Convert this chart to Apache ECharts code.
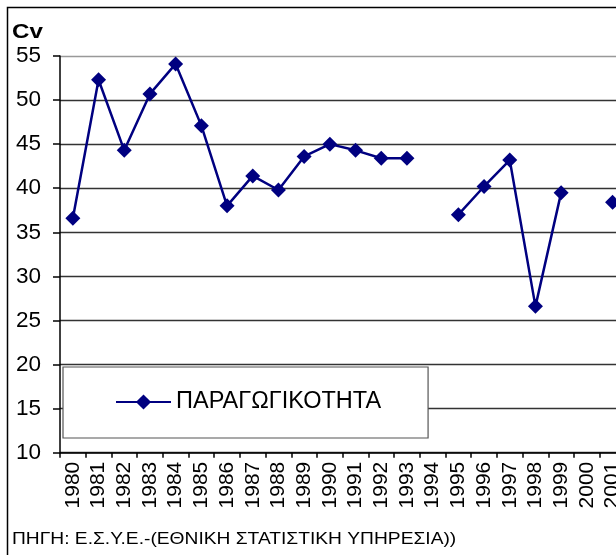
<!DOCTYPE html>
<html>
<head>
<meta charset="utf-8">
<script src="https://cdn.jsdelivr.net/npm/echarts@6/dist/echarts.min.js"></script>
<style>
  html, body { margin: 0; padding: 0; background: #fff; }
  #chart { width: 616px; height: 555px; }
</style>
</head>
<body>
<div id="chart"></div>
<script>
// Years on the category axis
const years = ['1980','1981','1982','1983','1984','1985','1986','1987','1988','1989',
               '1990','1991','1992','1993','1994','1995','1996','1997','1998','1999',
               '2000','2001'];
// Coefficient of variation (Cv) of productivity; null = no observation
const productivity = [36.6, 52.3, 44.3, 50.7, 54.1, 47.1, 38.0, 41.4, 39.8, 43.6,
                      45.0, 44.3, 43.4, 43.4, null, 37.0, 40.2, 43.2, 26.6, 39.5,
                      null, 38.4];
const yTicks = [10, 15, 20, 25, 30, 35, 40, 45, 50, 55];
const seriesName = 'ΠΑΡΑΓΩΓΙΚΟΤΗΤΑ';
const yTitle = 'Cv';
const sourceNote = 'ΠΗΓΗ: Ε.Σ.Υ.Ε.-(ΕΘΝΙΚΗ ΣΤΑΤΙΣΤΙΚΗ ΥΠΗΡΕΣΙΑ))';

const FONT = '"Liberation Sans", Arial, sans-serif';
const navy = '#000080';
const step = 25.7;

// grid lines: the top one is lighter than the rest
const splitColors = yTicks.map((v, i) => i === yTicks.length - 1 ? '#999' : '#333');

const chart = echarts.init(document.getElementById('chart'), null, { renderer: 'canvas' });
chart.setOption({
  backgroundColor: '#fff',
  animation: false,
  grid: {
    left: 60, top: 56, width: step * years.length, height: 396.7,
    containLabel: false, outerBoundsMode: 'none'
  },
  xAxis: {
    type: 'category',
    data: years,
    boundaryGap: true,
    axisLine: { show: true, lineStyle: { color: '#000', width: 1.5 } },
    axisTick: { show: true, interval: 0, length: 5, lineStyle: { color: '#000', width: 1.5 } },
    axisLabel: { interval: 0, rotate: 90, margin: 9, color: '#000', fontFamily: FONT, fontSize: 21 },
    splitLine: { show: false }
  },
  yAxis: {
    type: 'value',
    min: yTicks[0], max: yTicks[yTicks.length - 1], interval: 5,
    axisLine: { show: true, lineStyle: { color: '#000', width: 1.5 } },
    axisTick: { show: true, length: 7, lineStyle: { color: '#000', width: 1.5 } },
    axisLabel: { margin: 19, color: '#000', fontFamily: FONT, fontSize: 22.5 },
    splitLine: { show: true, lineStyle: { color: splitColors, width: 1.3 } }
  },
  legend: {
    show: true,
    left: 63, top: 367,
    orient: 'horizontal',
    backgroundColor: '#fff',
    borderColor: '#555',
    borderWidth: 1.2,
    padding: [23, 47, 24, 52],
    itemWidth: 55, itemHeight: 19,
    textStyle: { color: '#000', fontFamily: FONT, fontSize: 23.5 },
    data: [seriesName]
  },
  series: [{
    name: seriesName,
    type: 'line',
    data: productivity,
    connectNulls: false,
    symbol: 'diamond',
    symbolSize: 15,
    lineStyle: { color: navy, width: 2.5 },
    itemStyle: { color: navy },
    z: 3
  }],
  graphic: [
    {
      type: 'rect', silent: true, z: 10,
      shape: { x: 7.5, y: 7.5, width: 700, height: 600 },
      style: { fill: null, stroke: '#000', lineWidth: 1.5 }
    },
    {
      type: 'text', x: 12, y: 22, scaleX: 1.15, z: 10,
      style: { text: yTitle, fill: '#000', font: 'bold 21px ' + FONT }
    },
    {
      type: 'text', x: 12, y: 532, scaleX: 1.2, z: 10,
      style: { text: sourceNote, fill: '#000', font: '16px ' + FONT }
    }
  ]
});
</script>
</body>
</html>
